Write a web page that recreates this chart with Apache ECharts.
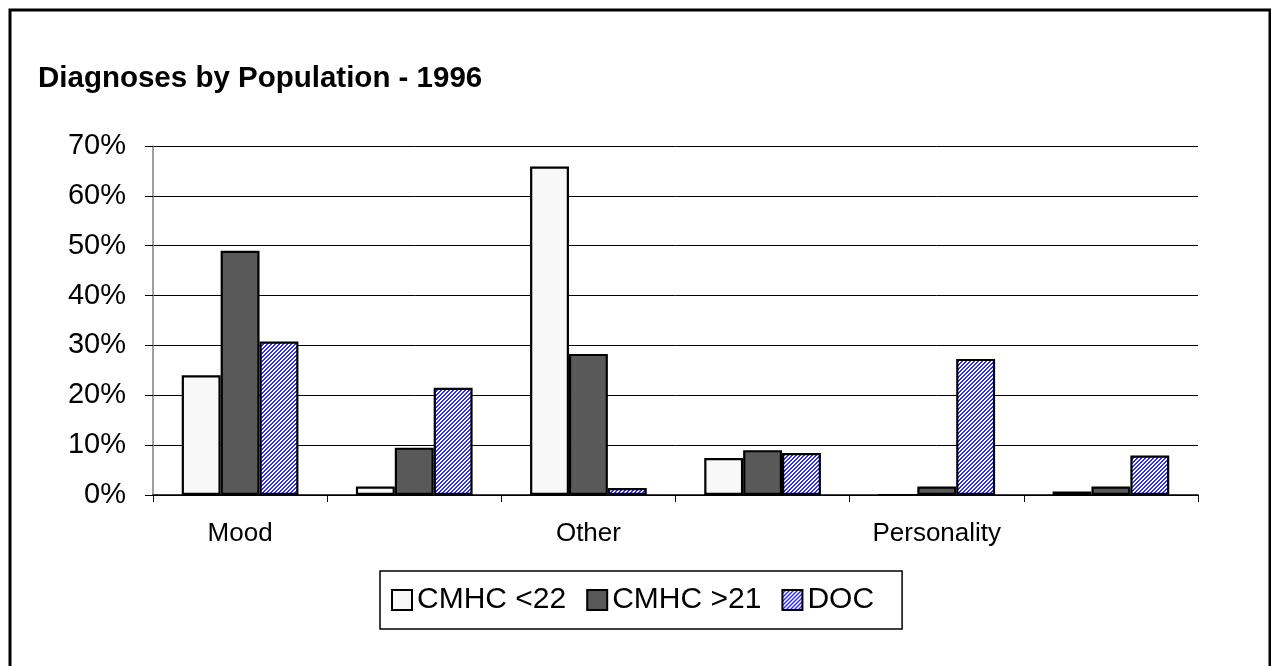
<!DOCTYPE html>
<html>
<head>
<meta charset="utf-8">
<script src="https://cdn.jsdelivr.net/npm/echarts@6/dist/echarts.min.js"></script>
<style>
  html, body { margin: 0; padding: 0; background: #fff; }
  #chart { width: 1271px; height: 666px; }
</style>
</head>
<body>
<div id="chart"></div>
<script>
const categories = ['Mood', '', 'Other', '', 'Personality', '']
const seriesNames = ['CMHC <22', 'CMHC >21', 'DOC']
const cmhcYoung = [0.24, 0.017, 0.659, 0.074, 0, 0.007]
const cmhcAdult = [0.49, 0.095, 0.283, 0.09, 0.017, 0.017]
const doc = [0.308, 0.215, 0.014, 0.084, 0.273, 0.079]
const yTicks = [0, 0.1, 0.2, 0.3, 0.4, 0.5, 0.6, 0.7]

const FONT = 'Liberation Sans, Arial, sans-serif'

// blue hatched fill for the DOC bars
function hatch() {
  const c = document.createElement('canvas')
  c.width = 4
  c.height = 4
  const ctx = c.getContext('2d')
  ctx.fillStyle = '#ffffff'
  ctx.fillRect(0, 0, 4, 4)
  ctx.fillStyle = '#2e2eff'
  for (let y = 0; y < 4; y++) {
    for (let x = 0; x < 4; x++) {
      if ((x + y) % 4 >= 2) ctx.fillRect(x, y, 1, 1)
    }
  }
  return { image: c, repeat: 'repeat' }
}

const chart = echarts.init(document.getElementById('chart'))
const barBorder = { borderColor: '#000', borderWidth: 2.2 }

chart.setOption({
  animation: false,
  title: {
    text: 'Diagnoses by Population - 1996',
    left: 33,
    top: 59,
    textStyle: { fontFamily: FONT, fontSize: 29.5, fontWeight: 'bold', color: '#000' }
  },
  graphic: [{
    type: 'rect',
    shape: { x: 10, y: 10, width: 1260, height: 662 },
    style: { fill: null, stroke: '#000', lineWidth: 3 },
    silent: true
  }],
  legend: {
    left: 380,
    top: 571,
    orient: 'horizontal',
    data: seriesNames,
    itemWidth: 20,
    itemHeight: 20,
    itemGap: 20,
    padding: [14, 28, 14, 11],
    borderColor: '#000',
    borderWidth: 1.5,
    icon: 'rect',
    textStyle: { fontFamily: FONT, fontSize: 30, color: '#000' }
  },
  grid: { left: 153, right: 73, top: 146, bottom: 171 },
  xAxis: {
    type: 'category',
    data: categories,
    axisLine: { lineStyle: { color: '#000', width: 1.5 } },
    axisTick: { show: true, length: 7, lineStyle: { color: '#000' } },
    axisLabel: { interval: 0, margin: 26, fontFamily: FONT, fontSize: 26, color: '#000' }
  },
  yAxis: {
    type: 'value',
    min: yTicks[0],
    max: yTicks[yTicks.length - 1],
    interval: 0.1,
    axisLine: { show: true, lineStyle: { color: '#808080', width: 1.5 } },
    axisTick: { show: true, length: 8, lineStyle: { color: '#000' } },
    splitLine: { lineStyle: { color: '#000', width: 1 } },
    axisLabel: {
      margin: 27,
      fontFamily: FONT,
      fontSize: 29,
      color: '#000',
      formatter: v => Math.round(v * 100) + '%'
    }
  },
  series: [
    {
      name: seriesNames[0], type: 'bar', data: cmhcYoung,
      barGap: '0%', barCategoryGap: '33%',
      itemStyle: Object.assign({ color: '#f8f8f8' }, barBorder)
    },
    {
      name: seriesNames[1], type: 'bar', data: cmhcAdult,
      barGap: '0%', barCategoryGap: '33%',
      itemStyle: Object.assign({ color: '#595959' }, barBorder)
    },
    {
      name: seriesNames[2], type: 'bar', data: doc,
      barGap: '0%', barCategoryGap: '33%',
      itemStyle: Object.assign({ color: hatch() }, barBorder)
    }
  ]
})
</script>
</body>
</html>
